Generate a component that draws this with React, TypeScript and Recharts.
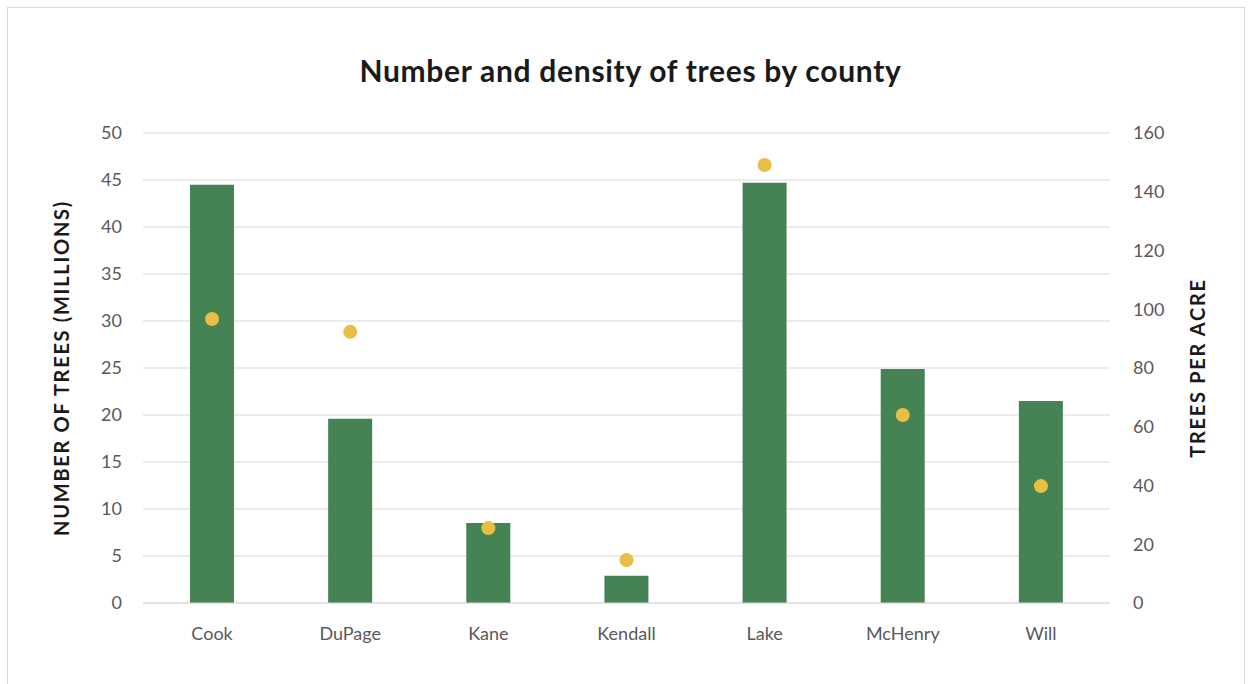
import React from "react";
import {
  ComposedChart,
  Bar,
  Scatter,
  XAxis,
  YAxis,
  CartesianGrid,
} from "recharts";

const counties = ["Cook", "DuPage", "Kane", "Kendall", "Lake", "McHenry", "Will"];
const treesMillions = [44.5, 19.6, 8.5, 2.9, 44.7, 24.9, 21.5];
const treesPerAcre = [96.7, 92.3, 25.5, 14.6, 149.1, 64, 39.8];
const leftTicks = [0, 5, 10, 15, 20, 25, 30, 35, 40, 45, 50];
const rightTicks = [0, 20, 40, 60, 80, 100, 120, 140, 160];

const data = counties.map((county, i) => ({
  county,
  trees: treesMillions[i],
  density: treesPerAcre[i],
}));

const tickStyle = { fill: "#595959", fontSize: 18, fontFamily: "Lato" };
const axisTitleStyle = {
  fill: "#1a1a1a",
  fontSize: 20,
  fontWeight: 700,
  fontFamily: "Lato",
  letterSpacing: 1.7,
};

const Dot = (props: any) => {
  const { cx, cy } = props;
  if (cx == null || cy == null) return null;
  return <circle cx={cx} cy={cy} r={7} fill="#E9BE45" />;
};

const sideTitle = (text: string, dx: number) => (props: any) => {
  const { x, y, height } = props.viewBox;
  const cx = x + dx;
  const cy = y + height / 2;
  return (
    <text
      x={cx}
      y={cy}
      transform={`rotate(-90 ${cx} ${cy})`}
      textAnchor="middle"
      dominantBaseline="central"
      style={axisTitleStyle}
    >
      {text}
    </text>
  );
};

export default function App() {
  return (
    <div
      style={{
        position: "absolute",
        left: 0,
        top: 0,
        width: 1252,
        height: 684,
        overflow: "hidden",
        background: "#fff",
      }}
    >
      <div
        style={{
          position: "absolute",
          left: 7,
          top: 7,
          width: 1236,
          height: 700,
          border: "1px solid #d9d9d9",
        }}
      />
      <div
        style={{
          position: "absolute",
          left: 0,
          top: 52,
          width: 1261,
          textAlign: "center",
          fontFamily: "Lato",
          fontWeight: 700,
          fontSize: 30,
          letterSpacing: 0.7,
          color: "#1a1a1a",
        }}
      >
        Number and density of trees by county
      </div>
      <div style={{ position: "absolute", left: 0, top: 0 }}>
        <ComposedChart
          width={1252}
          height={684}
          data={data}
          margin={{ top: 133, right: 42, bottom: 41, left: 40 }}
        >
          <CartesianGrid vertical={false} stroke="#d9d9d9" yAxisId="left" />
          <XAxis
            dataKey="county"
            axisLine={{ stroke: "#d9d9d9" }}
            tickLine={false}
            tickSize={0}
            tickMargin={24}
            height={40}
            tick={tickStyle}
          />
          <YAxis
            yAxisId="left"
            domain={[0, 50]}
            ticks={leftTicks}
            width={103}
            axisLine={false}
            tickLine={false}
            tickSize={0}
            tickMargin={21}
            tick={tickStyle}
            label={{ content: sideTitle("NUMBER OF TREES (MILLIONS)", 21) }}
          />
          <YAxis
            yAxisId="right"
            orientation="right"
            domain={[0, 160]}
            ticks={rightTicks}
            width={100}
            axisLine={false}
            tickLine={false}
            tickSize={0}
            tickMargin={23}
            tick={tickStyle}
            label={{ content: sideTitle("TREES PER ACRE", 87) }}
          />
          <Bar
            yAxisId="left"
            dataKey="trees"
            fill="#458254"
            barSize={44}
            isAnimationActive={false}
          />
          <Scatter
            yAxisId="right"
            dataKey="density"
            shape={<Dot />}
            isAnimationActive={false}
          />
        </ComposedChart>
      </div>
    </div>
  );
}
